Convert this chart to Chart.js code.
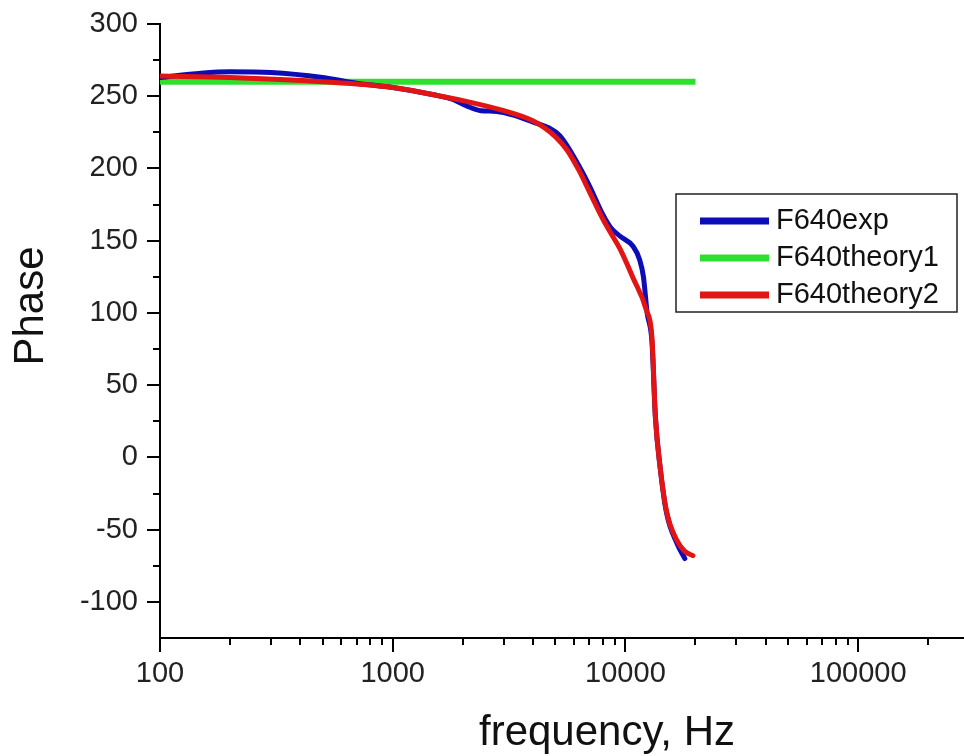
<!DOCTYPE html>
<html>
<head>
<meta charset="utf-8">
<script src="https://cdn.jsdelivr.net/npm/chart.js@4.4.1/dist/chart.umd.min.js"></script>
<style>
  body { margin: 0; background: #fff; }
  #wrap { width: 964px; height: 756px; }
</style>
</head>
<body>
<div id="wrap"><canvas id="phaseChart" width="964" height="756"></canvas></div>
<script>
// F640 phase response vs frequency
const seriesNames = ['F640exp', 'F640theory1', 'F640theory2'];

const freqExp = [100, 150, 200, 300, 500, 700, 1000, 1500, 1800, 2100, 2400, 2800, 3300, 4200, 4700, 5200, 5600, 6300, 7000, 8000, 8650, 9500, 10800, 11500, 11950, 12400, 13000, 13450, 14100, 15000, 16700, 18000];
const phaseExp = [263, 266, 267, 266.5, 263, 259, 256, 251, 248, 243, 240, 239.5, 237, 231, 228, 223, 216, 202, 188, 168, 159, 153, 146, 137, 125, 100, 80, 28, -7, -38, -60, -70];

const freqTheory1 = [100, 20000];
const phaseTheory1 = [260, 260];

const freqTheory2 = [100, 200, 500, 1000, 1500, 2000, 3000, 4000, 4500, 5000, 5600, 6300, 7000, 8000, 8600, 9500, 10800, 12300, 13000, 13450, 14100, 15000, 16700, 18000, 19500];
const phaseTheory2 = [264, 263, 260, 256, 251, 247, 240, 233, 228, 222, 213, 199, 184, 165, 156, 144, 124, 102, 83, 28, -7, -37, -58, -65, -68];

const yMajorStep = 50;

const toPoints = (xs, ys) => xs.map((x, i) => ({ x, y: ys[i] }));
const font = '"Liberation Sans", Arial, sans-serif';

// tick marks: long for major, short for minor (chart.js only has one length)
const tickMarks = {
    id: 'tickMarks',
    afterDraw(chart) {
        const { ctx, scales: { x, y } } = chart;
        ctx.save();
        ctx.strokeStyle = '#000';
        ctx.lineWidth = 2;
        ctx.beginPath();
        y.ticks.forEach(t => {
            if (t.value === y.min) return;
            const py = Math.round(y.getPixelForValue(t.value));
            const len = t.value % yMajorStep === 0 ? 13 : 7;
            ctx.moveTo(y.right, py);
            ctx.lineTo(y.right - len, py);
        });
        x.ticks.forEach(t => {
            const e = Math.floor(Math.log10(t.value) + 1e-9);
            const m = t.value / Math.pow(10, e);
            if (Math.abs(m - Math.round(m)) > 1e-6) return;
            const px = Math.round(x.getPixelForValue(t.value));
            const len = Math.round(m) === 1 ? 14 : 7;
            ctx.moveTo(px, x.top);
            ctx.lineTo(px, x.top + len);
        });
        ctx.stroke();
        ctx.restore();
    }
};

// axis titles sit off-centre in the original figure
const axisTitles = {
    id: 'axisTitles',
    afterDraw(chart) {
        const { ctx } = chart;
        ctx.save();
        ctx.fillStyle = '#111';
        ctx.font = '42px ' + font;
        ctx.textAlign = 'center';
        ctx.textBaseline = 'middle';
        ctx.fillText('frequency, Hz', 607, 733);
        ctx.translate(31, 306);
        ctx.rotate(-Math.PI / 2);
        ctx.fillText('Phase', 0, 0);
        ctx.restore();
    }
};

// boxed legend inside the plot, right side
const boxLegend = {
    id: 'boxLegend',
    afterDraw(chart) {
        const { ctx } = chart;
        const left = 676, top = 194, w = 281, h = 118;
        ctx.save();
        ctx.fillStyle = '#fff';
        ctx.fillRect(left, top, w, h);
        ctx.strokeStyle = '#222';
        ctx.lineWidth = 1.5;
        ctx.strokeRect(left, top, w, h);
        ctx.font = '29px ' + font;
        ctx.textBaseline = 'middle';
        chart.data.datasets.forEach((ds, i) => {
            const cy = top + 27 + i * 37;
            ctx.strokeStyle = ds.borderColor;
            ctx.lineWidth = 7;
            ctx.beginPath();
            ctx.moveTo(left + 24, cy);
            ctx.lineTo(left + 93, cy);
            ctx.stroke();
            ctx.fillStyle = '#111';
            ctx.fillText(ds.label, left + 100, cy);
        });
        ctx.restore();
    }
};

const ctx = document.getElementById('phaseChart').getContext('2d');

new Chart(ctx, {
    type: 'line',
    data: {
        datasets: [
            { label: seriesNames[0], data: toPoints(freqExp, phaseExp), borderColor: '#0c0cb8', borderWidth: 5, order: 1 },
            { label: seriesNames[1], data: toPoints(freqTheory1, phaseTheory1), borderColor: '#2ee02e', borderWidth: 6, borderCapStyle: 'butt', order: 2 },
            { label: seriesNames[2], data: toPoints(freqTheory2, phaseTheory2), borderColor: '#e21414', borderWidth: 5, order: 0 }
        ]
    },
    options: {
        responsive: false,
        animation: false,
        layout: { padding: { top: 24, right: 0, left: 0, bottom: 0 } },
        elements: {
            point: { radius: 0 },
            line: { cubicInterpolationMode: 'monotone', borderCapStyle: 'round', borderJoinStyle: 'round' }
        },
        plugins: {
            legend: { display: false },
            tooltip: { enabled: false }
        },
        scales: {
            x: {
                type: 'logarithmic',
                min: 100,
                max: 285000,
                afterFit: s => { s.height = 118; s.paddingLeft = 0; s.paddingRight = 0; },
                grid: { display: true, drawOnChartArea: false, drawTicks: false },
                border: { display: true, color: '#000', width: 2 },
                ticks: {
                    autoSkip: false,
                    maxRotation: 0,
                    padding: 19,
                    color: '#222',
                    font: { family: font, size: 29 },
                    callback: v => {
                        const l = Math.log10(v);
                        return Math.abs(l - Math.round(l)) < 1e-9 ? String(v) : '';
                    }
                }
            },
            y: {
                min: -125,
                max: 300,
                afterFit: s => { s.width = 160; s.paddingTop = 0; s.paddingBottom = 0; },
                grid: { display: true, drawOnChartArea: false, drawTicks: false },
                border: { display: true, color: '#000', width: 2 },
                ticks: {
                    stepSize: 25,
                    autoSkip: false,
                    padding: 22,
                    color: '#222',
                    font: { family: font, size: 29 },
                    callback: v => (v % yMajorStep === 0 ? String(v) : '')
                }
            }
        }
    },
    plugins: [tickMarks, axisTitles, boxLegend]
});
</script>
</body>
</html>
